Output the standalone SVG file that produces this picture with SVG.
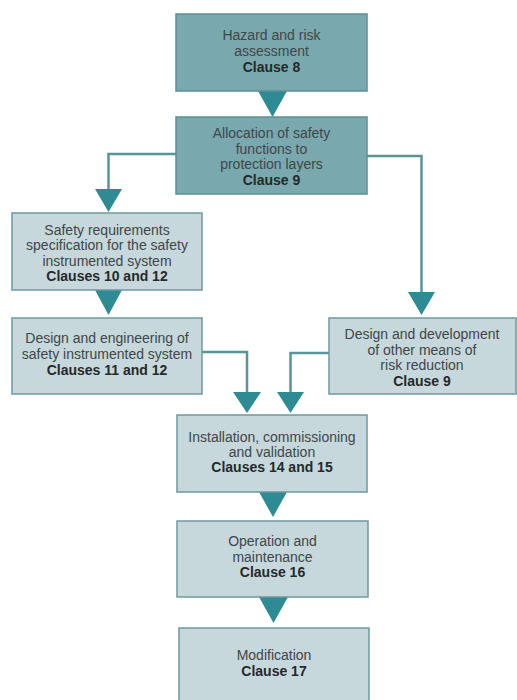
<svg xmlns="http://www.w3.org/2000/svg" width="517" height="700" viewBox="0 0 517 700">
<style>
.dark{fill:#79a8ae;stroke:#5e8f95;stroke-width:1.5}
.light{fill:#c6d8db;stroke:#6f999e;stroke-width:1.5}
text{font-family:"Liberation Sans",Arial,sans-serif;font-size:14px;fill:#40464a;text-anchor:middle}
.b{font-weight:bold;fill:#26292b}
.line{fill:none;stroke:#5a9399;stroke-width:2.5}
.tri{fill:#2f8b93}
</style>
<rect width="517" height="700" fill="#ffffff"/>
<g id="connectors">
<polygon class="tri" points="258,91 287,91 272.5,117"/>
<polyline class="line" points="176,154 108.5,154 108.5,190"/>
<polygon class="tri" points="95,189 122,189 108.5,212"/>
<polyline class="line" points="367,156 421.5,156 421.5,293"/>
<polygon class="tri" points="408,292 435,292 421.5,315"/>
<polygon class="tri" points="95,290 122,290 108.5,315"/>
<polyline class="line" points="202,352 247,352 247,393"/>
<polygon class="tri" points="233,392 261,392 247,413"/>
<polyline class="line" points="329,353 290.5,353 290.5,393"/>
<polygon class="tri" points="277,392 304,392 290.5,413"/>
<polygon class="tri" points="259,492 287,492 273,517"/>
<polygon class="tri" points="259,597 288,597 273.5,623"/>
</g>
<g id="n1">
<rect class="dark" x="176" y="14" width="191" height="77"/>
<text x="271.5" y="40">Hazard and risk</text>
<text x="271.5" y="56">assessment</text>
<text class="b" x="271.5" y="72">Clause 8</text>
</g>
<g id="n2">
<rect class="dark" x="176" y="117" width="191" height="77"/>
<text x="271.5" y="138">Allocation of safety</text>
<text x="271.5" y="153.5">functions to</text>
<text x="271.5" y="169">protection layers</text>
<text class="b" x="271.5" y="184.5">Clause 9</text>
</g>
<g id="n3">
<rect class="light" x="12" y="213" width="190" height="77"/>
<text x="107" y="234.5">Safety requirements</text>
<text x="107" y="250">specification for the safety</text>
<text x="107" y="265.5">instrumented system</text>
<text class="b" x="107" y="281">Clauses 10 and 12</text>
</g>
<g id="n4">
<rect class="light" x="12" y="318" width="190" height="76"/>
<text x="107" y="343">Design and engineering of</text>
<text x="107" y="359">safety instrumented system</text>
<text class="b" x="107" y="375">Clauses 11 and 12</text>
</g>
<g id="n5">
<rect class="light" x="329" y="318" width="187" height="76"/>
<text x="422" y="339">Design and development</text>
<text x="422" y="354.5">of other means of</text>
<text x="422" y="370">risk reduction</text>
<text class="b" x="422" y="385.5">Clause 9</text>
</g>
<g id="n6">
<rect class="light" x="177" y="415" width="190" height="77"/>
<text x="272" y="442">Installation, commissioning</text>
<text x="272" y="457">and validation</text>
<text class="b" x="272" y="472">Clauses 14 and 15</text>
</g>
<g id="n7">
<rect class="light" x="177" y="521" width="191" height="76"/>
<text x="272.5" y="546">Operation and</text>
<text x="272.5" y="562">maintenance</text>
<text class="b" x="272.5" y="577">Clause 16</text>
</g>
<g id="n8">
<rect class="light" x="179" y="628" width="190" height="74"/>
<text x="274" y="660">Modification</text>
<text class="b" x="274" y="676">Clause 17</text>
</g>
</svg>
